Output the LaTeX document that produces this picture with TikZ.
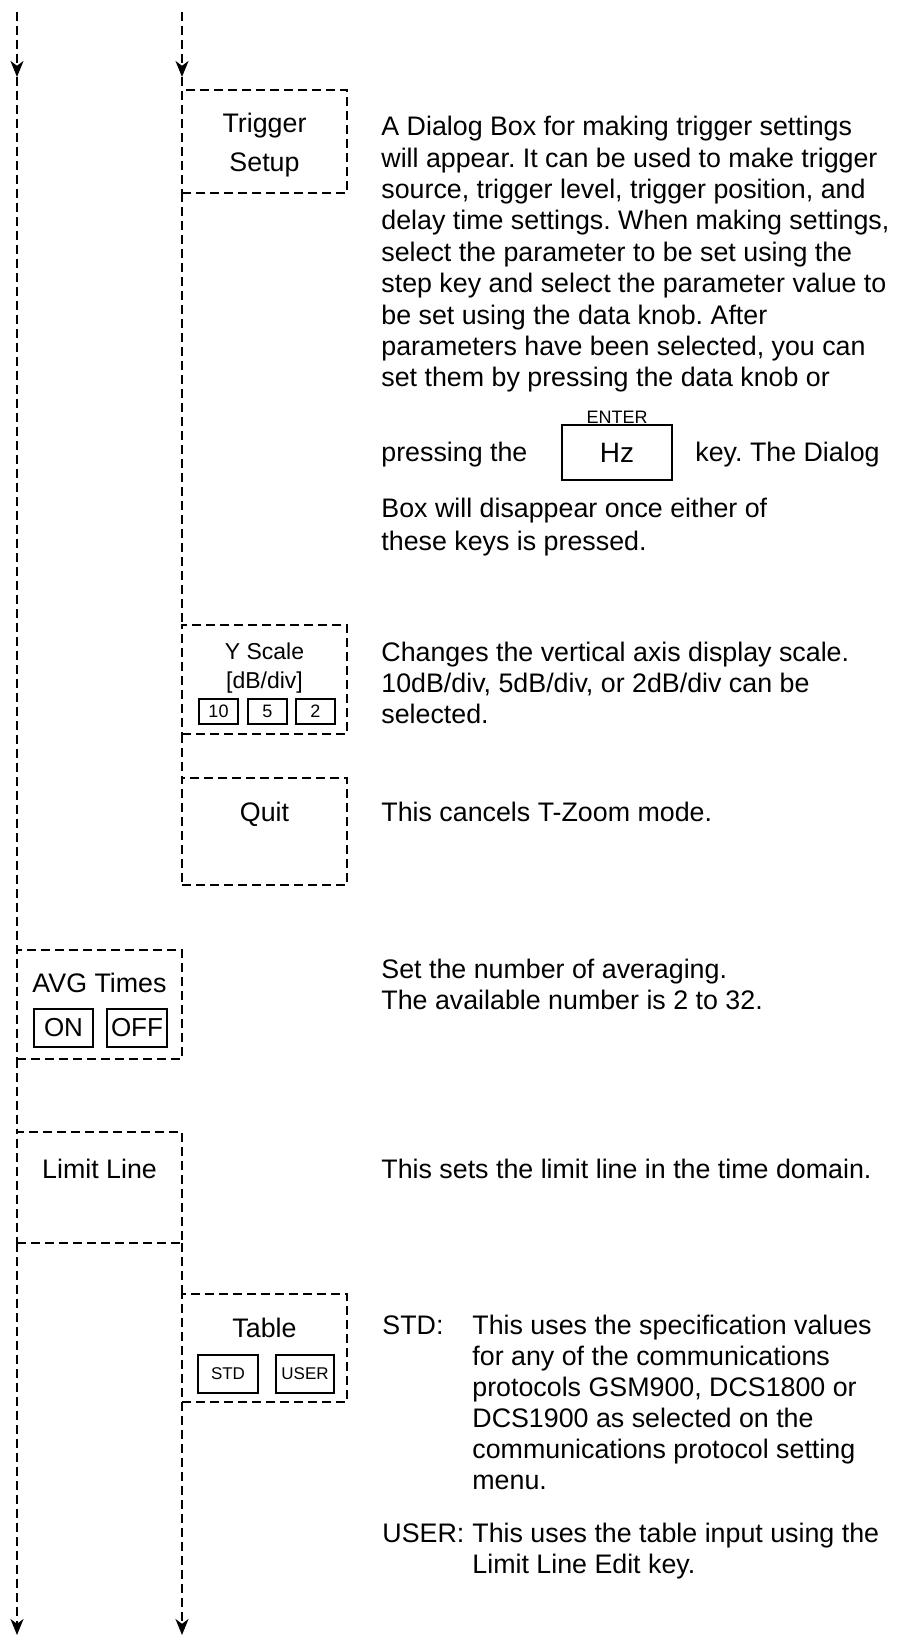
\documentclass[tikz,border=0pt]{standalone}
\usepackage{fontspec}
\setmainfont{Liberation Sans}
\usetikzlibrary{arrows.meta}
\frenchspacing
\begin{document}
\begin{tikzpicture}[x=0.5pt, y=-0.5pt,
  dline/.style={line width=1pt, dash pattern=on 4.5pt off 2.5pt},
  dbox/.style={draw, line width=0.9pt, dash pattern=on 4.5pt off 2.5pt, rectangle, inner sep=0pt, outer sep=0pt, minimum width=82.5pt, anchor=north west},
  keybox/.style={draw, line width=1pt, rectangle, inner sep=0pt, outer sep=0pt},
  body/.style={font=\fontsize{13.4pt}{15.5pt}\selectfont\frenchspacing, anchor=base west, align=left, inner sep=0pt},
  blabel/.style={font=\fontsize{13.4pt}{15.7pt}\selectfont, anchor=base, inner sep=0pt},
  slabel/.style={font=\fontsize{11.5pt}{13pt}\selectfont, anchor=base, inner sep=0pt},
  ykey/.style={keybox, minimum width=19.5pt, minimum height=12.5pt, font=\fontsize{9pt}{10pt}\selectfont},
  arrowend/.style={-{Stealth[length=8pt, width=6.5pt, inset=2.4pt]}}
]
\useasboundingbox (0,0) rectangle (898,1636);

% ---------- boxes ----------
\node[dbox, minimum height=51.5pt] (trig) at (182,90) {};
\node[dbox, minimum height=54.5pt] (ys) at (182,625) {};
\node[dbox, minimum height=53.5pt] (quit) at (182,778) {};
\node[dbox, minimum height=54.5pt] (avg) at (17,950) {};
\node[dbox, minimum height=55.5pt] (lim) at (17,1132) {};
\node[dbox, minimum height=54pt] (tab) at (182,1294) {};

% ---------- coordinates for free ends ----------
\coordinate (Ltop) at (17,12);
\coordinate (Larr) at (17,77);
\coordinate (Lbot) at (17,1635);
\coordinate (Rtop) at (182,12);
\coordinate (Rarr) at (182,77);
\coordinate (Rbot) at (182,1635);

% ---------- connectors ----------
\draw[dline, arrowend] (Ltop) -- (Larr);
\draw[dline] (Larr) -- (avg.north west);
\draw[dline] (avg.south west) -- (lim.north west);
\draw[dline, arrowend] (lim.south west) -- (Lbot);
\draw[dline, arrowend] (Rtop) -- (Rarr);
\draw[dline] (Rarr) -- (trig.north west);
\draw[dline] (trig.south west) -- (ys.north west);
\draw[dline] (ys.south west) -- (quit.north west);
\draw[dline] (lim.south east) -- (tab.north west);
\draw[dline, arrowend] (tab.south west) -- (Rbot);

% ---------- box labels ----------
\node[blabel] (trigA) at (264.5,133) {Trigger};
\node[blabel] (trigB) at (264.5,172) {Setup};
\node[slabel] (ysA) at (264.5,659) {Y Scale};
\node[slabel] (ysB) at (264.5,688) {[dB/div]};
\node[ykey] (b10) at (218.5,711) {10};
\node[ykey] (b5) at (267.5,711) {5};
\node[ykey] (b2) at (315.5,711) {2};
\node[blabel] (quitA) at (264.5,821) {Quit};
\node[blabel] (avgA) at (99.5,992) {AVG Times};
\node[keybox, minimum width=29.5pt, minimum height=19pt, font=\fontsize{13pt}{15pt}\selectfont] (on) at (63.5,1028) {ON};
\node[keybox, minimum width=30pt, minimum height=19pt, font=\fontsize{13pt}{15pt}\selectfont] (off) at (137,1028) {OFF};
\node[blabel] (limA) at (99.5,1178) {Limit Line};
\node[blabel] (tabA) at (264.5,1337) {Table};
\node[keybox, minimum width=30pt, minimum height=19pt, font=\fontsize{8.5pt}{10pt}\selectfont] (std) at (228,1374) {STD};
\node[keybox, minimum width=29pt, minimum height=19pt, font=\fontsize{8.5pt}{10pt}\selectfont] (user) at (305,1374) {USER};

% ---------- descriptions (anchor = baseline of last line) ----------
\node[body, font=\fontsize{13.4pt}{15.7pt}\selectfont\frenchspacing] (d1) at (381,387) {A Dialog Box for making trigger settings\\
will appear. It can be used to make trigger\\
source, trigger level, trigger position, and\\
delay time settings. When making settings,\\
select the parameter to be set using the\\
step key and select the parameter value to\\
be set using the data knob. After\\
parameters have been selected, you can\\
set them by pressing the data knob or};
\node[body] (d2) at (381,461) {pressing the};
\node[keybox, minimum width=55pt, minimum height=27.5pt, font=\fontsize{14pt}{16pt}\selectfont] (hz) at (617,452.5) {Hz};
\node[anchor=base, inner sep=0pt, font=\fontsize{9pt}{10pt}\selectfont] (enter) at (617,423) {ENTER};
\node[body] (d3) at (695,461) {key. The Dialog};
\node[body, font=\fontsize{13.4pt}{16.5pt}\selectfont\frenchspacing] (d4) at (381,550) {Box will disappear once either of\\
these keys is pressed.};
\node[body] (d5) at (381,723) {Changes the vertical axis display scale.\\
10dB/div, 5dB/div, or 2dB/div can be\\
selected.};
\node[body] (d6) at (381,821) {This cancels T-Zoom mode.};
\node[body] (d7) at (381,1009) {Set the number of averaging.\\
The available number is 2 to 32.};
\node[body] (d8) at (381,1178) {This sets the limit line in the time domain.};
\node[body] (stdL) at (382,1334) {STD:};
\node[body] (d9) at (472,1489) {This uses the specification values\\
for any of the communications\\
protocols GSM900, DCS1800 or\\
DCS1900 as selected on the\\
communications protocol setting\\
menu.};
\node[body] (userL) at (382,1542) {USER:};
\node[body] (d10) at (472,1573) {This uses the table input using the\\
Limit Line Edit key.};
\end{tikzpicture}
\end{document}
